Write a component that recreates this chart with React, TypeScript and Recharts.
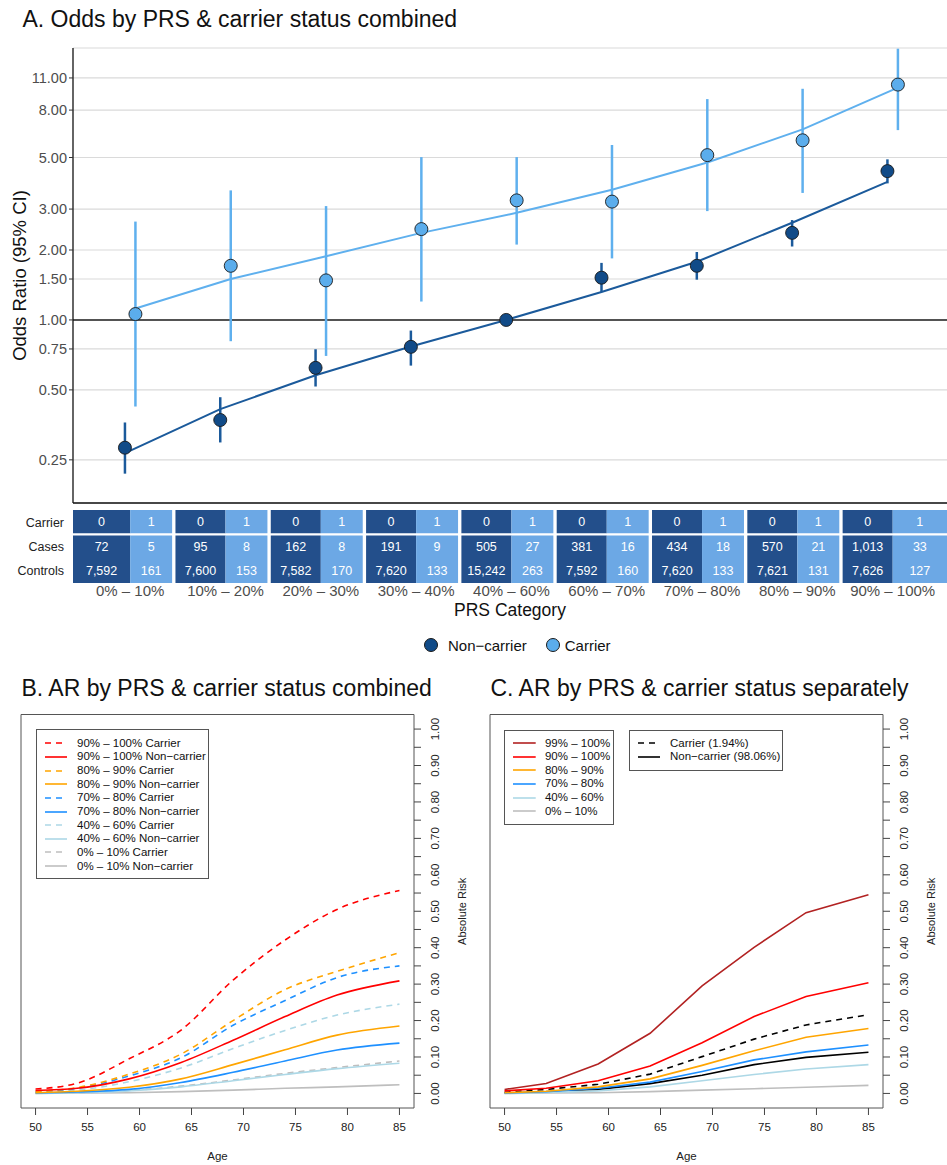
import React from 'react';
import {
  ComposedChart,
  LineChart,
  Line,
  Scatter,
  XAxis,
  YAxis,
  CartesianGrid,
  ReferenceLine,
  ReferenceArea,
  ErrorBar,
} from 'recharts';

const FONT = "'Liberation Sans', Arial, Helvetica, sans-serif";

// ---------- Panel A data ----------
const prsCategories = ['0% – 10%', '10% – 20%', '20% – 30%', '30% – 40%', '40% – 60%', '60% – 70%', '70% – 80%', '80% – 90%', '90% – 100%'];
const orNonCarrier = [0.282, 0.371, 0.622, 0.766, 1.0, 1.52, 1.71, 2.37, 4.37];
const orNonCarrierLow = [0.218, 0.297, 0.517, 0.636, 1.0, 1.32, 1.49, 2.07, 3.87];
const orNonCarrierHigh = [0.362, 0.465, 0.748, 0.9, 1.0, 1.76, 1.96, 2.69, 4.91];
const fitNonCarrier = [0.267, 0.413, 0.578, 0.768, 1.0, 1.32, 1.78, 2.62, 3.93];
const orCarrier = [1.06, 1.71, 1.48, 2.46, 3.27, 3.23, 5.12, 5.93, 10.3];
const orCarrierLow = [0.424, 0.81, 0.7, 1.2, 2.11, 1.84, 2.94, 3.52, 6.56];
const orCarrierHigh = [2.65, 3.61, 3.09, 5.02, 5.02, 5.66, 8.92, 9.88, 14.7];
const fitCarrier = [1.12, 1.5, 1.88, 2.37, 2.89, 3.63, 4.76, 6.61, 10.0];
const orTicks = [0.25, 0.5, 0.75, 1, 1.5, 2, 3, 5, 8, 11];

// ---------- Table data ----------
const tableRows = ['Carrier', 'Cases', 'Controls'];
const carrierCodes = [0, 1];
const casesNonCarrier = [72, 95, 162, 191, 505, 381, 434, 570, 1013];
const casesCarrier = [5, 8, 8, 9, 27, 16, 18, 21, 33];
const controlsNonCarrier = [7592, 7600, 7582, 7620, 15242, 7592, 7620, 7621, 7626];
const controlsCarrier = [161, 153, 170, 133, 263, 160, 133, 131, 127];

// ---------- Panels B & C data ----------
const ages = [50, 54, 59, 64, 69, 74, 79, 85];
const ageTicks = [50, 55, 60, 65, 70, 75, 80, 85];
const riskTicks = [0, 0.05, 0.1, 0.15, 0.2, 0.25, 0.3, 0.35, 0.4, 0.45, 0.5, 0.55, 0.6, 0.65, 0.7, 0.75, 0.8, 0.85, 0.9, 0.95, 1];

const combinedLabels = [
  '90% – 100% Carrier', '90% – 100% Non−carrier',
  '80% – 90% Carrier', '80% – 90% Non−carrier',
  '70% – 80% Carrier', '70% – 80% Non−carrier',
  '40% – 60% Carrier', '40% – 60% Non−carrier',
  '0% – 10% Carrier', '0% – 10% Non−carrier',
];
const combinedValues = [
  [0.012, 0.028, 0.095, 0.174, 0.311, 0.421, 0.505, 0.557],
  [0.008, 0.014, 0.040, 0.085, 0.146, 0.211, 0.270, 0.309],
  [0.005, 0.016, 0.053, 0.108, 0.200, 0.285, 0.335, 0.386],
  [0.002, 0.006, 0.017, 0.040, 0.079, 0.120, 0.160, 0.185],
  [0.005, 0.014, 0.048, 0.098, 0.187, 0.255, 0.318, 0.350],
  [0.001, 0.004, 0.011, 0.030, 0.058, 0.089, 0.119, 0.138],
  [0.002, 0.009, 0.032, 0.070, 0.123, 0.173, 0.215, 0.245],
  [0.000, 0.002, 0.007, 0.018, 0.035, 0.052, 0.068, 0.083],
  [0.001, 0.002, 0.008, 0.020, 0.037, 0.055, 0.071, 0.089],
  [0.000, 0.001, 0.002, 0.005, 0.009, 0.014, 0.018, 0.024],
];
const combinedColors = ['#FF0000', '#FF0000', '#FFA500', '#FFA500', '#1E90FF', '#1E90FF', '#ADD8E6', '#ADD8E6', '#BEBEBE', '#BEBEBE'];
const combinedDashed = [true, false, true, false, true, false, true, false, true, false];

const separateLabels = ['99% – 100%', '90% – 100%', '80% – 90%', '70% – 80%', '40% – 60%', '0% – 10%', 'Carrier (1.94%)', 'Non−carrier (98.06%)'];
const separateValues = [
  [0.011, 0.027, 0.081, 0.165, 0.295, 0.401, 0.496, 0.545],
  [0.007, 0.014, 0.035, 0.075, 0.139, 0.211, 0.266, 0.304],
  [0.002, 0.006, 0.018, 0.040, 0.077, 0.117, 0.154, 0.178],
  [0.001, 0.005, 0.014, 0.031, 0.060, 0.092, 0.114, 0.133],
  [0.000, 0.003, 0.007, 0.018, 0.035, 0.052, 0.067, 0.079],
  [0.000, 0.001, 0.002, 0.005, 0.009, 0.013, 0.017, 0.022],
  [0.003, 0.011, 0.025, 0.053, 0.101, 0.149, 0.188, 0.216],
  [0.001, 0.004, 0.011, 0.027, 0.050, 0.079, 0.099, 0.113],
];
const separateColors = ['#B22222', '#FF0000', '#FFA500', '#1E90FF', '#ADD8E6', '#BEBEBE', '#000000', '#000000'];
const separateDashed = [false, false, false, false, false, false, true, false];

// ---------- styling ----------
const NC_FILL = '#114B88';
const NC_LINE = '#1B5A9B';
const C_FILL = '#5BADEC';
const C_LINE = '#5FB0EE';
const TABLE_DARK = '#234F8B';
const TABLE_LIGHT = '#6CA8E5';
const X_DOMAIN: [number, number] = [0.4, 9.57];
const DODGE = 0.055;
const AGE_DOMAIN: [number, number] = [48.6, 86.4];
const RISK_DOMAIN: [number, number] = [-0.04, 1.04];
const DASH = '6 5';

const catPositions = prsCategories.map((_, i) => i + 1);

const nonCarrierPoints = catPositions.map((c, i) => ({
  x: c - DODGE,
  y: orNonCarrier[i],
  err: [orNonCarrier[i] - orNonCarrierLow[i], orNonCarrierHigh[i] - orNonCarrier[i]],
}));
const carrierPoints = catPositions.map((c, i) => ({
  x: c + DODGE,
  y: orCarrier[i],
  err: [orCarrier[i] - orCarrierLow[i], orCarrierHigh[i] - orCarrier[i]],
}));
const nonCarrierFit = catPositions.map((c, i) => ({ x: c - DODGE, fit: fitNonCarrier[i] }));
const carrierFit = catPositions.map((c, i) => ({ x: c + DODGE, fit: fitCarrier[i] }));

const fmt = (n: number) => n.toLocaleString('en-US');

const blockBounds = (i: number) => {
  const c = catPositions[i];
  const left = i === 0 ? X_DOMAIN[0] : c - 0.525;
  const right = i === catPositions.length - 1 ? X_DOMAIN[1] : c + 0.44;
  return { left, c, right };
};

const tableTexts = catPositions.flatMap((_, i) => {
  const { left, c, right } = blockBounds(i);
  const dx = (left + c) / 2;
  const lx = (c + right) / 2;
  return [
    { x: dx, y: 0.5, label: String(carrierCodes[0]) },
    { x: lx, y: 0.5, label: String(carrierCodes[1]) },
    { x: dx, y: 1.5, label: fmt(casesNonCarrier[i]) },
    { x: lx, y: 1.5, label: fmt(casesCarrier[i]) },
    { x: dx, y: 2.5, label: fmt(controlsNonCarrier[i]) },
    { x: lx, y: 2.5, label: fmt(controlsCarrier[i]) },
  ];
});

const makeDot = (fill: string) => (props: any) => (
  <circle cx={props.cx} cy={props.cy} r={6.5} fill={fill} stroke="#1a1a1a" strokeWidth={0.9} />
);

const cellText = (props: any) => {
  const label = props.payload?.label ?? props.label;
  return (
    <text x={props.cx} y={props.cy} textAnchor="middle" dominantBaseline="central" fill="#fff" fontSize={12.5} fontFamily={FONT}>
      {label}
    </text>
  );
};

function OddsChart() {
  return (
    <ComposedChart width={947} height={520} margin={{ top: 48, right: 0, bottom: 0, left: 0 }}>
      <CartesianGrid vertical={false} stroke="#DADADA" strokeWidth={1.2} />
      <XAxis
        type="number"
        dataKey="x"
        domain={X_DOMAIN}
        ticks={catPositions}
        allowDataOverflow
        interval={0}
        height={17}
        tick={false}
        tickSize={4}
        tickLine={{ stroke: '#333', strokeWidth: 1.2 }}
        axisLine={{ stroke: '#111', strokeWidth: 1.3 }}
      />
      <YAxis
        scale="log"
        type="number"
        domain={[0.163, 14.8]}
        allowDataOverflow
        ticks={orTicks}
        interval={0}
        tickFormatter={(v: number) => Number(v).toFixed(2)}
        width={73}
        tickSize={4}
        tickMargin={2}
        tickLine={{ stroke: '#333' }}
        axisLine={{ stroke: '#111', strokeWidth: 1.3 }}
        tick={{ fontSize: 14.5, fill: '#4D4D4D', fontFamily: FONT }}
        label={(p: any) => {
          const vb = p.viewBox || { x: 0, y: 48, width: 73, height: 455 };
          const cx = 19;
          const cy = vb.y + vb.height / 2;
          return (
            <text x={cx} y={cy} transform={`rotate(-90 ${cx} ${cy})`} textAnchor="middle" dominantBaseline="central" fontSize={18.5} fill="#111" fontFamily={FONT}>
              Odds Ratio (95% CI)
            </text>
          );
        }}
      />
      <ReferenceLine y={1} stroke="#222" strokeWidth={1.5} />
      <Line data={nonCarrierFit} dataKey="fit" stroke={NC_LINE} strokeWidth={2} dot={false} isAnimationActive={false} legendType="none" />
      <Line data={carrierFit} dataKey="fit" stroke={C_LINE} strokeWidth={2} dot={false} isAnimationActive={false} legendType="none" />
      <Scatter data={nonCarrierPoints} dataKey="y" name="Non−carrier" fill={NC_FILL} shape={makeDot(NC_FILL)} isAnimationActive={false}>
        <ErrorBar dataKey="err" direction="y" width={0} stroke={NC_LINE} strokeWidth={2.5} />
      </Scatter>
      <Scatter data={carrierPoints} dataKey="y" name="Carrier" fill={C_FILL} shape={makeDot(C_FILL)} isAnimationActive={false}>
        <ErrorBar dataKey="err" direction="y" width={0} stroke={C_LINE} strokeWidth={2.5} />
      </Scatter>
    </ComposedChart>
  );
}

function TableChart() {
  return (
    <ComposedChart width={947} height={120} margin={{ top: 5, right: 0, bottom: 0, left: 0 }}>
      <XAxis
        type="number"
        dataKey="x"
        domain={X_DOMAIN}
        ticks={catPositions}
        allowDataOverflow
        interval={0}
        height={42}
        axisLine={false}
        tickLine={false}
        tickSize={0}
        tickMargin={2}
        tickFormatter={(v: number) => prsCategories[Math.round(v) - 1]}
        tick={{ fontSize: 15, fill: '#4D4D4D', fontFamily: FONT }}
        label={(p: any) => {
          const vb = p.viewBox || { x: 73, y: 78, width: 874, height: 42 };
          return (
            <text x={vb.x + vb.width / 2} y={vb.y + 33.4} textAnchor="middle" fontSize={17.5} fill="#111" fontFamily={FONT}>
              PRS Category
            </text>
          );
        }}
      />
      <YAxis
        type="number"
        dataKey="y"
        domain={[0, 3]}
        reversed
        ticks={[0.5, 1.5, 2.5]}
        interval={0}
        tickFormatter={(v: number) => tableRows[Math.floor(v)]}
        width={73}
        axisLine={false}
        tickLine={false}
        tickSize={4}
        tickMargin={5}
        tick={{ fontSize: 12.5, fill: '#222', fontFamily: FONT }}
      />
      {catPositions.map((_, i) => {
        const { left, c, right } = blockBounds(i);
        return (
          <React.Fragment key={i}>
            <ReferenceArea x1={left} x2={c} y1={0} y2={0.955} fill={TABLE_DARK} fillOpacity={1} stroke="none" ifOverflow="visible" />
            <ReferenceArea x1={c} x2={right} y1={0} y2={0.955} fill={TABLE_LIGHT} fillOpacity={1} stroke="none" ifOverflow="visible" />
            <ReferenceArea x1={left} x2={c} y1={1.045} y2={3} fill={TABLE_DARK} fillOpacity={1} stroke="none" ifOverflow="visible" />
            <ReferenceArea x1={c} x2={right} y1={1.045} y2={3} fill={TABLE_LIGHT} fillOpacity={1} stroke="none" ifOverflow="visible" />
          </React.Fragment>
        );
      })}
      <Scatter data={tableTexts} dataKey="y" shape={cellText} isAnimationActive={false} legendType="none" />
    </ComposedChart>
  );
}

const RiskTick = (props: any) => {
  const { x, y, payload } = props;
  const v = payload.value as number;
  if (Math.round(v * 100) % 10 !== 0) return <g />;
  const cx = x + 14;
  return (
    <text x={cx} y={y} transform={`rotate(-90 ${cx} ${y})`} textAnchor="middle" dominantBaseline="central" fontSize={11.5} fill="#222" fontFamily={FONT}>
      {v.toFixed(2)}
    </text>
  );
};

type SeriesDef = { name: string; color: string; dashed: boolean; values: number[] };

const combinedSeries: SeriesDef[] = combinedLabels.map((name, i) => ({ name, color: combinedColors[i], dashed: combinedDashed[i], values: combinedValues[i] }));
const separateSeries: SeriesDef[] = separateLabels.map((name, i) => ({ name, color: separateColors[i], dashed: separateDashed[i], values: separateValues[i] }));

function RiskPanel({ series, curve }: { series: SeriesDef[]; curve: 'monotone' | 'linear' }) {
  return (
    <LineChart width={477} height={465} margin={{ top: 14.5, right: 13, bottom: 0, left: 21 }}>
      <XAxis
        type="number"
        dataKey="age"
        domain={AGE_DOMAIN}
        ticks={ageTicks}
        allowDataOverflow
        interval={0}
        height={57}
        tickSize={7}
        tickMargin={8}
        axisLine={false}
        tickLine={{ stroke: '#444' }}
        tick={{ fontSize: 11.5, fill: '#222', fontFamily: FONT }}
        label={(p: any) => {
          const vb = p.viewBox || { x: 21, y: 408, width: 393, height: 57 };
          return (
            <text x={vb.x + vb.width / 2} y={vb.y + 51.8} textAnchor="middle" fontSize={11.5} fill="#222" fontFamily={FONT}>
              Age
            </text>
          );
        }}
      />
      <YAxis
        orientation="right"
        type="number"
        domain={RISK_DOMAIN}
        ticks={riskTicks}
        allowDataOverflow
        interval={0}
        width={50}
        tickSize={7}
        tickMargin={0}
        axisLine={false}
        tickLine={{ stroke: '#444' }}
        tick={(p: any) => <RiskTick {...p} />}
        label={(p: any) => {
          const vb = p.viewBox || { x: 414, y: 14.5, width: 50, height: 393.5 };
          const cx = vb.x + 47.7;
          const cy = vb.y + vb.height / 2;
          return (
            <text x={cx} y={cy} transform={`rotate(-90 ${cx} ${cy})`} textAnchor="middle" dominantBaseline="central" fontSize={11} fill="#222" fontFamily={FONT}>
              Absolute Risk
            </text>
          );
        }}
      />
      <ReferenceArea x1={AGE_DOMAIN[0]} x2={AGE_DOMAIN[1]} y1={RISK_DOMAIN[0]} y2={RISK_DOMAIN[1]} fill="none" fillOpacity={0} stroke="#555" strokeWidth={1} ifOverflow="visible" />
      {series
        .map((s, i) => ({ s, i }))
        .reverse()
        .map(({ s, i }) => (
          <Line
            key={i}
            data={ages.map((age, j) => ({ age, risk: s.values[j] }))}
            dataKey="risk"
            name={s.name}
            type={curve}
            stroke={s.color}
            strokeWidth={1.6}
            strokeDasharray={s.dashed ? DASH : undefined}
            dot={false}
            isAnimationActive={false}
          />
        ))}
    </LineChart>
  );
}

function LineLegend({ items, left, top, width, height, padLeft, padTop, sample, gap }: {
  items: SeriesDef[]; left: number; top: number; width: number; height: number; padLeft: number; padTop: number; sample: number; gap: number;
}) {
  return (
    <div
      style={{
        position: 'absolute', left, top, width, height, boxSizing: 'border-box',
        border: '1px solid #555', background: '#fff', paddingLeft: padLeft - 1, paddingTop: padTop - 1,
        fontFamily: FONT, fontSize: 11.5, color: '#111',
      }}
    >
      {items.map((s) => (
        <div key={s.name} style={{ display: 'flex', alignItems: 'center', height: 13.65, whiteSpace: 'nowrap' }}>
          <svg width={sample} height={4} style={{ flex: 'none' }}>
            <line x1={0} x2={sample} y1={2} y2={2} stroke={s.color} strokeWidth={1.6} strokeDasharray={s.dashed ? DASH : undefined} />
          </svg>
          <span style={{ marginLeft: gap, lineHeight: '13px' }}>{s.name}</span>
        </div>
      ))}
    </div>
  );
}

const titleStyle: React.CSSProperties = {
  position: 'absolute', fontFamily: FONT, fontSize: 23, lineHeight: '23px', color: '#111', whiteSpace: 'nowrap',
};

const legendDot = (fill: string): React.CSSProperties => ({
  width: 12, height: 12, borderRadius: '50%', background: fill, border: '1px solid #1a1a1a', flex: 'none',
});

export default function App() {
  return (
    <div style={{ position: 'absolute', left: 0, top: 0, width: 947, height: 1165, background: '#fff', overflow: 'hidden', fontFamily: FONT }}>
      <div style={{ ...titleStyle, left: 22.5, top: 8 }}>A. Odds by PRS &amp; carrier status combined</div>
      <div style={{ position: 'absolute', left: 0, top: 0 }}>
        <OddsChart />
      </div>
      <div style={{ position: 'absolute', left: 0, top: 505 }}>
        <TableChart />
      </div>
      <div style={{ position: 'absolute', left: 424, top: 636, height: 18, display: 'flex', alignItems: 'center', fontFamily: FONT, fontSize: 15, color: '#111' }}>
        <div style={legendDot(NC_FILL)} />
        <span style={{ marginLeft: 10 }}>Non−carrier</span>
        <div style={{ ...legendDot(C_FILL), marginLeft: 19 }} />
        <span style={{ marginLeft: 5 }}>Carrier</span>
      </div>

      <div style={{ ...titleStyle, left: 21.5, top: 676.5 }}>B. AR by PRS &amp; carrier status combined</div>
      <div style={{ position: 'absolute', left: 0, top: 700 }}>
        <RiskPanel series={combinedSeries} curve="monotone" />
      </div>
      <LineLegend items={combinedSeries} left={36} top={729.3} width={173} height={150} padLeft={9} padTop={7.2} sample={22} gap={10} />

      <div style={{ ...titleStyle, left: 490.5, top: 676.5 }}>C. AR by PRS &amp; carrier status separately</div>
      <div style={{ position: 'absolute', left: 469, top: 700 }}>
        <RiskPanel series={separateSeries} curve="linear" />
      </div>
      <LineLegend items={separateSeries.slice(0, 6)} left={504.3} top={730} width={110} height={95} padLeft={8.7} padTop={6.2} sample={22.7} gap={9.3} />
      <LineLegend items={separateSeries.slice(6)} left={629.3} top={730} width={154} height={40.7} padLeft={8.7} padTop={6.2} sample={22} gap={10} />
    </div>
  );
}
